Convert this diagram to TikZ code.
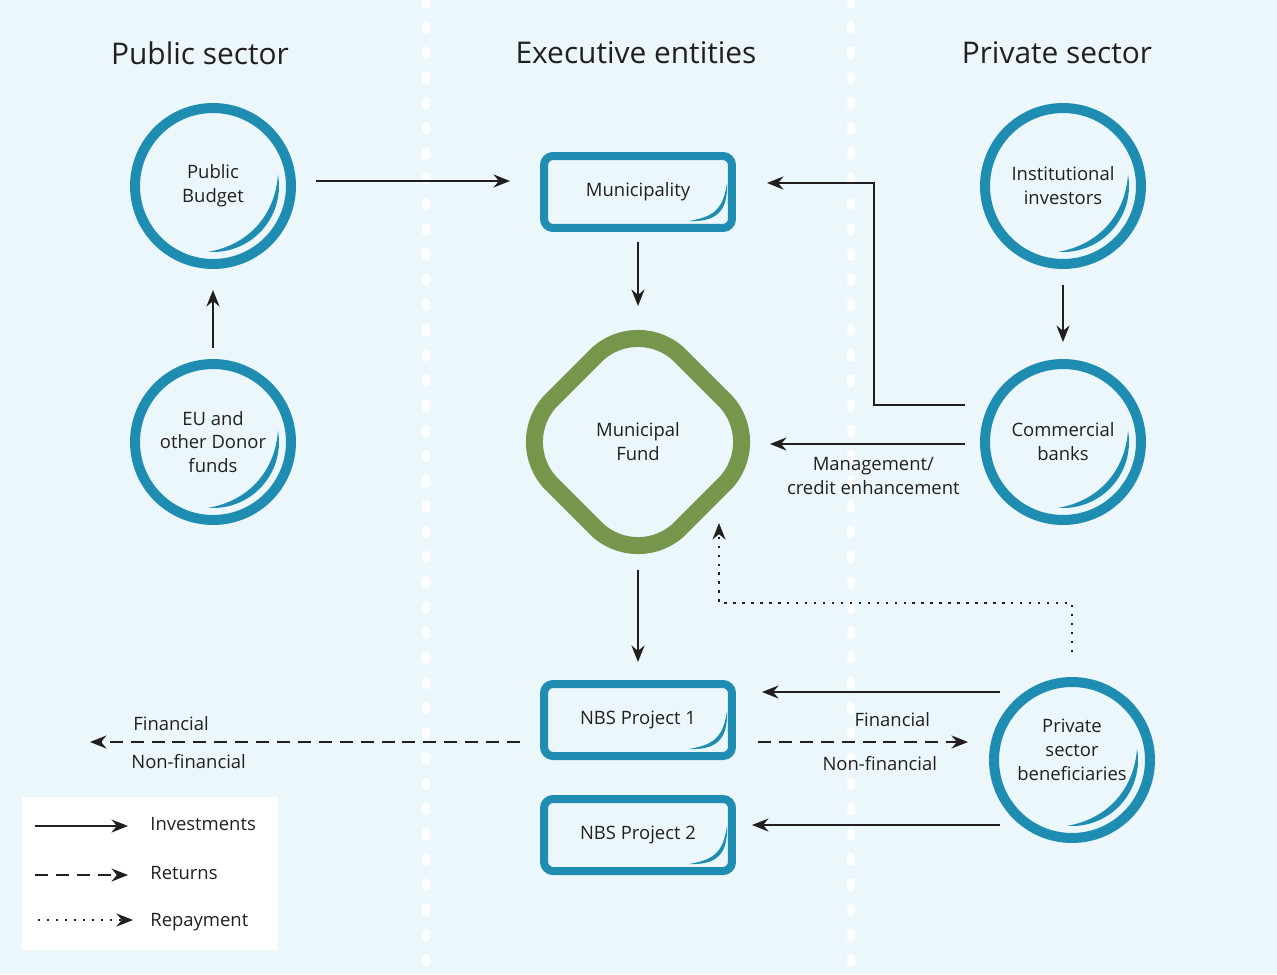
\documentclass[tikz,border=0pt]{standalone}
\usepackage{fontspec}
\setmainfont{Open Sans}
\usepackage{xcolor}
\usetikzlibrary{shapes.geometric, arrows.meta, positioning}

\definecolor{bgblue}{HTML}{EBF7FA}
\definecolor{ringblue}{HTML}{1F8DB2}
\definecolor{fundgreen}{HTML}{76964C}
\definecolor{ink}{HTML}{231F20}

\tikzset{
    ring/.style={circle, draw=ringblue, line width=0.2cm, minimum size=3.12cm, inner sep=0pt,
        align=center, text=ink, font=\fontsize{10.5}{13.6}\selectfont},
    projbox/.style={rectangle, draw=ringblue, line width=0.16cm, rounded corners=0.18cm,
        minimum width=3.76cm, minimum height=1.44cm, inner sep=0pt, text=ink,
        font=\fontsize{10.5}{13.6}\selectfont},
    fundbox/.style={diamond, draw=fundgreen, line width=0.34cm, rounded corners=1.2cm,
        minimum width=5.28cm, minimum height=5.28cm, inner sep=0pt, align=center, text=ink,
        font=\fontsize{10.5}{13.6}\selectfont},
    sector/.style={text=ink, inner sep=0pt, font=\fontsize{17}{20}\selectfont},
    lbl/.style={text=ink, inner sep=0pt, align=center, font=\fontsize{10.5}{13.6}\selectfont},
    invest/.style={draw=ink, line width=1.1pt, -{Stealth[length=0.33cm, width=0.26cm]}},
    returns/.style={invest, dash pattern=on 7.4pt off 4.5pt},
    repay/.style={invest, dash pattern=on 1.4pt off 3.7pt},
    divider/.style={white, line width=0.16cm, line cap=round, dash pattern=on 2.6pt off 11.75pt}
}

\newcommand{\ringcurl}[1]{%
    \begin{scope}[shift={(#1.center)}]
        \fill[ringblue] (10:66) arc[start angle=10, end angle=-94, radius=66] to[bend right=38] (10:66);
    \end{scope}}
\newcommand{\boxcurl}[1]{%
    \begin{scope}[shift={(#1.south east)}]
        \fill[ringblue] (-9,49) .. controls (-8,20) and (-20,10) .. (-47,11)
            .. controls (-25,15) and (-13,20) .. (-9,49);
    \end{scope}}

\begin{document}
\begin{tikzpicture}[x=0.02cm, y=0.02cm]
        \useasboundingbox (0,0) rectangle (1277,-974);
        \fill[bgblue] (0,0) rectangle (1277,-974);
        \draw[divider] (426,0) -- (426,-974);
        \draw[divider] (851,0) -- (851,-974);

        \node[sector] (pubhead) at (200,-53) {Public sector};
        \node[sector] (exehead) at (636,-53) {Executive entities};
        \node[sector] (privhead) at (1057,-53) {Private sector};

        \node[ring] (pb) at (213,-186) {Public\\Budget};
        \node[ring] (eu) at (213,-442) {EU and\\other Donor\\funds};
        \node[ring] (inst) at (1063,-186) {Institutional\\investors};
        \node[ring] (bank) at (1063,-442) {Commercial\\banks};
        \node[ring, text depth=0.4cm] (benef) at (1072,-760) {Private\\sector\\beneficiaries};
        \ringcurl{pb}
        \ringcurl{eu}
        \ringcurl{inst}
        \ringcurl{bank}
        \ringcurl{benef}

        \node[projbox] (muni) at (638,-192) {Municipality};
        \node[projbox] (nbs1) at (638,-720) {NBS Project 1};
        \node[projbox] (nbs2) at (638,-835) {NBS Project 2};
        \boxcurl{muni}
        \boxcurl{nbs1}
        \boxcurl{nbs2}

        \node[fundbox] (fund) at (638,-442) {Municipal\\Fund};

        \coordinate (pubend) at (90,-742);

        \draw[invest] ([shift={(20,5)}]pb.east) -- ([shift={(-30,11)}]muni.west);
        \draw[invest, shorten <=0.22cm, shorten >=0.42cm] (eu) -- (pb);
        \draw[invest] ([shift={(0,-10)}]muni.south) -- ([shift={(0,-4.5)}]fund.north);
        \draw[invest, shorten <=0.32cm, shorten >=0.34cm] (inst) -- (bank);
        \draw[invest] ([shift={(-15,37)}]bank.west) -- ++(-91,0) |- ([shift={(31,9)}]muni.east);
        \draw[invest] ([shift={(-15,-2)}]bank.west) -- ([shift={(-8.5,-2)}]fund.east)
            node[lbl, pos=0.47, below=0.24cm] {Management/\\credit enhancement};
        \draw[invest] ([shift={(0,12.5)}]fund.south) -- ([shift={(0,18)}]nbs1.north);
        \draw[repay] ([shift={(0,25)}]benef.north) -- ++(0,49) -| ([shift={(81,-81)}]fund.center);
        \draw[invest] ([shift={(11,68)}]benef.west) -- ([shift={(26,28)}]nbs1.east);
        \draw[invest] ([shift={(11,-65)}]benef.west) -- ([shift={(16,10)}]nbs2.east);

        \draw[returns] ([shift={(-20,-22)}]nbs1.west) -- (pubend);
        \node[lbl, anchor=west] (pubfin) at ([shift={(43,18)}]pubend) {Financial};
        \node[lbl, anchor=west] (pubnon) at ([shift={(41,-20)}]pubend) {Non-financial};
        \draw[returns] ([shift={(22,-22)}]nbs1.east) -- ([shift={(-21,18)}]benef.west)
            node[lbl, pos=0.64, above=0.28cm] {Financial}
            node[lbl, pos=0.58, below=0.26cm] {Non-financial};

        \node[fill=white, minimum width=5.12cm, minimum height=3.06cm, inner sep=0pt] (legend) at (150,-873.5) {};
        \coordinate (inv0) at (35,-826);
        \coordinate (inv1) at (128,-826);
        \coordinate (ret0) at (35,-875);
        \coordinate (ret1) at (128,-875);
        \coordinate (rep0) at (38,-920);
        \coordinate (rep1) at (133,-920);
        \draw[invest] (inv0) -- (inv1);
        \draw[returns] (ret0) -- (ret1);
        \draw[repay] (rep0) -- (rep1);
        \node[lbl, anchor=west] (invtxt) at (150,-824) {Investments};
        \node[lbl, anchor=west] (rettxt) at (150,-873) {Returns};
        \node[lbl, anchor=west] (reptxt) at (150,-922) {Repayment};
    \end{tikzpicture}
\end{document}
